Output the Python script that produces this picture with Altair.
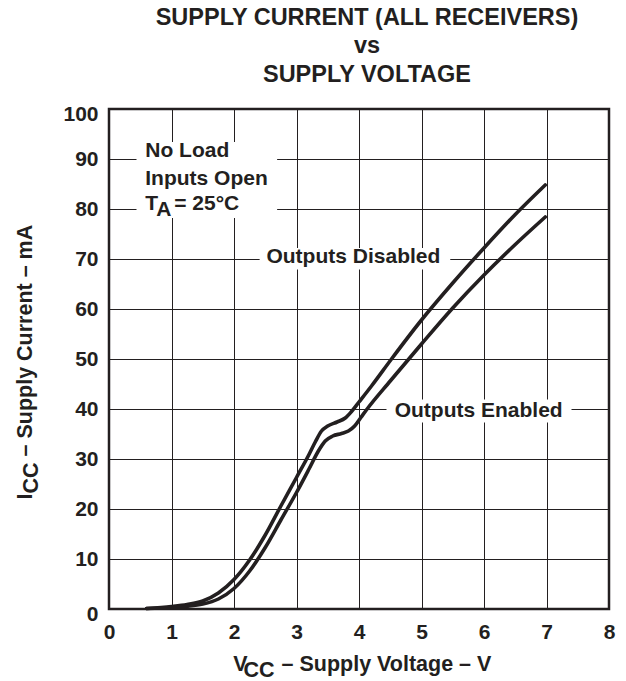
import altair as alt
import pandas as pd

# ---------------- data ----------------
x_ticks = [0, 1, 2, 3, 4, 5, 6, 7, 8]
y_ticks = [0, 10, 20, 30, 40, 50, 60, 70, 80, 90, 100]

# Outputs Disabled curve: VCC (V) / ICC (mA)
dis_v = [0.6, 1.0, 1.25, 1.5, 1.75, 2.0, 2.25, 2.5, 2.75, 3.0, 3.2, 3.3, 3.4,
         3.5, 3.65, 3.78, 3.88, 4.0, 4.2, 4.52, 5.0, 5.5, 6.0, 6.5, 6.98]
dis_i = [0.1, 0.5, 0.9, 1.6, 3.2, 5.9, 9.8, 14.8, 20.6, 26.3, 30.9, 33.4, 35.6,
         36.6, 37.4, 38.2, 39.5, 41.4, 44.6, 50.0, 57.8, 65.2, 72.2, 78.9, 84.8]

# Outputs Enabled curve
ena_v = [0.6, 1.0, 1.25, 1.5, 1.75, 2.0, 2.25, 2.5, 2.75, 3.0, 3.2, 3.35, 3.46,
         3.58, 3.72, 3.83, 3.93, 4.03, 4.13, 4.5, 5.0, 5.5, 6.0, 6.5, 6.98]
ena_i = [0.1, 0.3, 0.55, 1.0, 2.0, 4.1, 7.6, 12.3, 17.8, 23.3, 28.0, 31.6, 33.6,
         34.6, 35.1, 35.6, 36.6, 38.3, 40.0, 45.6, 53.0, 60.2, 66.8, 72.9, 78.4]

series_names = ["Outputs Disabled", "Outputs Enabled"]
cond_lines = ["No Load", "Inputs Open"]
title_lines = ["SUPPLY CURRENT (ALL RECEIVERS)", "vs", "SUPPLY VOLTAGE"]

# ---------------- layout / style ----------------
FONT = "Liberation Sans"
INK = "#231f20"
W = H = 500

curves = pd.DataFrame({
    "v": dis_v + ena_v,
    "i": dis_i + ena_i,
    "series": [series_names[0]] * len(dis_v) + [series_names[1]] * len(ena_v),
})

# label positions in data units (annotation layout)
series_lab = pd.DataFrame({"v": [3.91, 5.915], "i": [70.45, 39.66], "label": series_names})
boxes = pd.DataFrame({
    "v": [0.44, 2.41, 4.44], "v2": [2.69, 5.46, 7.40],
    "i": [78.2, 67.9, 37.3], "i2": [93.4, 72.2, 41.9],
})
cond_df = pd.DataFrame({"v": [0.58, 0.58], "i": [91.64, 86.06], "label": cond_lines})
ta_df = pd.DataFrame({"v": [0.58], "i": [81.06]})

x_scale = alt.Scale(domain=[0, 8], nice=False, zero=False)
y_scale = alt.Scale(domain=[0, 100], nice=False, zero=False)

common_axis = dict(
    title=None, grid=True, gridColor=INK, gridWidth=1, gridOpacity=1,
    domain=False, ticks=False, tickSize=0, labelFont=FONT, labelFontSize=21,
    labelFontWeight="bold", labelColor=INK, labelOverlap=False, format="d",
)
x_axis = alt.Axis(values=x_ticks, labelPadding=12, labelFlush=False, **common_axis)
y_axis = alt.Axis(
    values=y_ticks, labelPadding=11, labelFlush=False,
    labelOffset={"condition": {"test": "datum.value == 0 || datum.value == 100", "value": 5.5}, "value": 0},
    **common_axis,
)


def X(field="v"):
    return alt.X(f"{field}:Q", scale=x_scale, axis=x_axis)


def Y(field="i"):
    return alt.Y(f"{field}:Q", scale=y_scale, axis=y_axis)


txt = dict(font=FONT, fontSize=21, fontWeight="bold", color=INK)
ttl = dict(font=FONT, fontSize=21.5, fontWeight="bold", color=INK)

box_layer = alt.Chart(boxes).mark_rect(color="white", opacity=1).encode(
    x=X("v"), x2="v2", y=Y("i"), y2="i2"
)

line_layer = alt.Chart(curves).mark_line(
    interpolate="monotone", strokeWidth=3.6, color=INK, strokeCap="round"
).encode(x=X("v"), y=Y("i"), detail="series:N")

series_text = alt.Chart(series_lab).mark_text(align="center", baseline="middle", **txt).encode(
    x=X("v"), y=Y("i"), text="label:N"
)
cond_text = alt.Chart(cond_df).mark_text(align="left", baseline="middle", **txt).encode(
    x=X("v"), y=Y("i"), text="label:N"
)
ta_T = alt.Chart(ta_df).mark_text(align="left", baseline="middle", text="T", **txt).encode(
    x=X("v"), y=Y("i")
)
ta_A = alt.Chart(ta_df).mark_text(align="left", baseline="middle", text="A", dx=11, dy=6, **txt).encode(
    x=X("v"), y=Y("i")
)
ta_rest = alt.Chart(ta_df).mark_text(align="left", baseline="middle", text="= 25°C", dx=29, **txt).encode(
    x=X("v"), y=Y("i")
)

# axis titles with subscripts (pixel positions relative to plot area)
one = pd.DataFrame({"k": [0]})
xt_V = alt.Chart(one).mark_text(align="left", baseline="alphabetic", text="V", **ttl).encode(
    x=alt.value(124.3), y=alt.value(561.5))
xt_CC = alt.Chart(one).mark_text(align="left", baseline="alphabetic", text="CC", **ttl).encode(
    x=alt.value(134.5), y=alt.value(567.5))
xt_rest = alt.Chart(one).mark_text(align="left", baseline="alphabetic", text="– Supply Voltage – V", **ttl).encode(
    x=alt.value(172.5), y=alt.value(561.5))

yt_I = alt.Chart(one).mark_text(angle=270, align="left", baseline="alphabetic", text="I", **ttl).encode(
    x=alt.value(-77), y=alt.value(390.5))
yt_CC = alt.Chart(one).mark_text(angle=270, align="left", baseline="alphabetic", text="CC", **ttl).encode(
    x=alt.value(-71), y=alt.value(384.5))
yt_rest = alt.Chart(one).mark_text(angle=270, align="left", baseline="alphabetic", text="– Supply Current – mA", **ttl).encode(
    x=alt.value(-77), y=alt.value(347.5))

chart = alt.layer(
    box_layer, line_layer, series_text, cond_text, ta_T, ta_A, ta_rest,
    xt_V, xt_CC, xt_rest, yt_I, yt_CC, yt_rest,
).properties(
    width=W, height=H,
    title=alt.TitleParams(
        text=title_lines, font=FONT, fontSize=23.5, fontWeight="bold", color=INK,
        anchor="middle", frame="group", baseline="bottom", lineHeight=28.7,
        offset=-7, dx=8,
    ),
    autosize=alt.AutoSizeParams(type="none"),
    padding={"left": 101, "top": 101, "right": 9, "bottom": 70},
    background="white",
).configure_view(stroke=INK, strokeWidth=2.5)

chart.save("out.html", embed_options={"renderer": "svg", "actions": False})
